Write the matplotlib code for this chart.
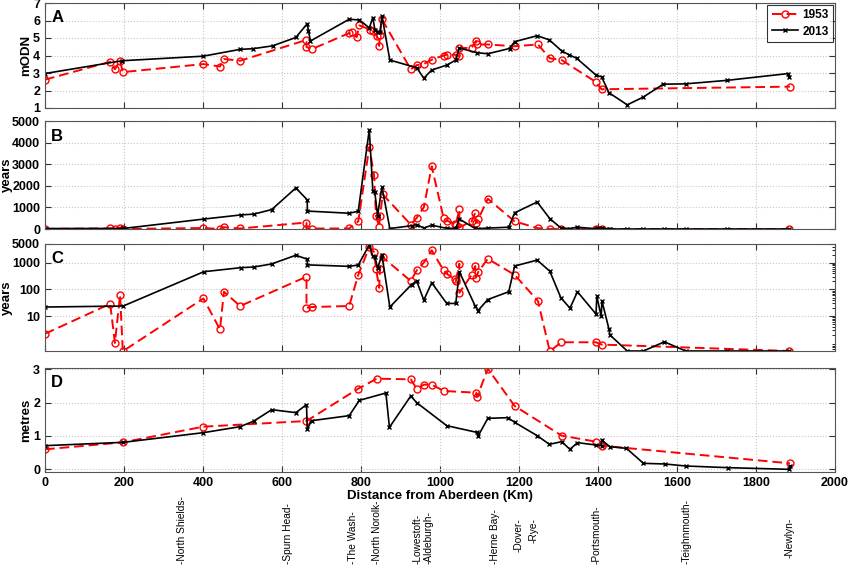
import numpy as np
import matplotlib
matplotlib.use("Agg")
import matplotlib.pyplot as plt
import matplotlib.ticker as mtick
from matplotlib.transforms import blended_transform_factory

plt.rcParams['font.family'] = ['Liberation Sans', 'DejaVu Sans']
plt.rcParams['font.weight'] = 'bold'

# ---- data (distance in km from Aberdeen) ----
# panel A: extreme water level (mODN)
a53_x = [0, 165, 177, 190, 197, 401, 443, 453, 494, 662, 662, 675, 770, 776, 789, 796,
         823, 831, 840, 846, 848, 853, 926, 941, 959, 979, 1009, 1017, 1040, 1049, 1049,
         1080, 1091, 1093, 1121, 1189, 1248, 1278, 1308, 1395, 1409, 1886]
a53_y = [2.62, 3.64, 3.21, 3.70, 3.05, 3.51, 3.37, 3.80, 3.70, 4.89, 4.49, 4.36, 5.28, 5.32,
         5.05, 5.72, 5.48, 5.38, 5.09, 4.55, 5.18, 6.07, 3.21, 3.45, 3.51, 3.76, 4.00, 4.04,
         4.04, 3.96, 4.43, 4.43, 4.83, 4.63, 4.63, 4.53, 4.63, 3.84, 3.74, 2.48, 2.07, 2.22]
a13_x = [0, 195, 400, 494, 527, 576, 635, 664, 667, 672, 770, 796, 821, 830, 835, 842, 848,
         853, 873, 941, 959, 979, 1017, 1040, 1049, 1093, 1121, 1176, 1189, 1246, 1277, 1308,
         1327, 1346, 1396, 1409, 1428, 1474, 1515, 1565, 1622, 1727, 1882, 1884]
a13_y = [2.97, 3.70, 3.96, 4.35, 4.39, 4.55, 5.03, 5.82, 5.40, 4.83, 6.07, 6.03, 5.58, 6.17,
         5.48, 5.34, 5.32, 6.27, 3.74, 3.30, 2.70, 3.17, 3.45, 3.74, 4.43, 4.16, 4.10, 4.40,
         4.79, 5.13, 4.89, 4.26, 4.04, 3.84, 2.86, 2.78, 1.87, 1.18, 1.63, 2.36, 2.38, 2.58,
         2.97, 2.76]

# panels B and C: return period (years)
rp53_x = [0, 165, 177, 190, 197, 401, 443, 453, 494, 662, 662, 675, 770, 793, 821, 833, 838,
          846, 848, 855, 926, 941, 959, 979, 1009, 1017, 1037, 1040, 1049, 1049, 1080, 1089,
          1091, 1097, 1121, 1189, 1248, 1278, 1307, 1395, 1409, 1884]
rp53_y = [2.2, 29, 1.0, 61, 0.49, 46, 3.2, 82, 24, 300, 20.5, 22, 24, 350, 3800, 2500, 600,
          115, 580, 1600, 206, 515, 1000, 2900, 520, 390, 237, 206, 915, 75, 350, 750, 275,
          460, 1400, 350, 37, 0.49, 1.06, 1.06, 0.87, 0.5]
rp13_x = [0, 198, 402, 495, 529, 574, 635, 664, 664, 770, 793, 821, 830, 835, 842, 853, 873,
          928, 941, 959, 979, 1017, 1040, 1049, 1089, 1096, 1121, 1174, 1189, 1246, 1278, 1306,
          1329, 1348, 1395, 1397, 1408, 1410, 1428, 1430, 1474, 1515, 1568, 1622, 1727, 1884]
rp13_y = [22, 24, 460, 650, 690, 900, 1900, 1350, 830, 730, 820, 4600, 1750, 1700, 620, 1950,
          22, 153, 206, 40, 178, 30, 30, 460, 24, 16, 42, 82, 750, 1250, 480, 49, 20, 82, 12,
          56, 10, 37, 3.2, 2, 0.5, 0.5, 1.1, 0.5, 0.5, 0.5]

# panel D: metres
d53_x = [0, 197, 401, 662, 793, 840, 926, 941, 959, 979, 1010, 1091, 1094, 1121, 1189, 1308,
         1395, 1409, 1886]
d53_y = [0.60, 0.81, 1.28, 1.45, 2.42, 2.72, 2.70, 2.42, 2.54, 2.54, 2.35, 2.30, 2.17, 3.02,
         1.90, 1.01, 0.83, 0.71, 0.18]
d13_x = [0, 198, 401, 494, 529, 574, 635, 662, 664, 675, 770, 796, 863, 872, 926, 941, 1017,
         1093, 1097, 1121, 1172, 1189, 1246, 1277, 1308, 1329, 1348, 1395, 1409, 1409, 1430,
         1472, 1515, 1570, 1622, 1730, 1884, 1886]
d13_y = [0.71, 0.81, 1.10, 1.28, 1.45, 1.79, 1.70, 1.94, 1.21, 1.46, 1.61, 2.07, 2.29, 1.26,
         2.20, 2.00, 1.31, 1.11, 1.01, 1.53, 1.55, 1.41, 1.01, 0.75, 0.83, 0.60, 0.80, 0.73,
         0.71, 0.88, 0.68, 0.63, 0.18, 0.16, 0.10, 0.05, 0.00, 0.10]

# coastal locations marked under the x axis
places = ["-North Shields-", "-Spurn Head-", "-The Wash-", "-North Norolk-", "-Lowestoft-",
          "-Aldeburgh-", "-Herne Bay-", "-Dover-", "-Rye-", "-Portsmouth-", "-Teighnmouth-",
          "-Newlyn-"]
place_km = [346, 615, 780, 840, 944, 972, 1139, 1198, 1238, 1397, 1625, 1886]

# ---- figure ----
fig = plt.figure(figsize=(8.51, 5.70), dpi=100)
W, H = 851.0, 570.0
left, right = 45 / W, 835 / W
boxes = [(3, 108), (121, 229), (244, 351), (368, 472)]                     # pixel top/bottom of each panel
axes = [fig.add_axes([left, 1 - b / H, right - left, (b - t) / H]) for t, b in boxes]
ax1, ax2, ax3, ax4 = axes

s53 = dict(color='red', ls='--', lw=1.4, marker='o', ms=5, mfc='none', mew=1.0, dashes=(5, 2.5))
s13 = dict(color='black', ls='-', lw=1.2, marker='x', ms=3, mew=1.0)

ax1.plot(a53_x, a53_y, label='1953', **s53)
ax1.plot(a13_x, a13_y, label='2013', **s13)
ax2.plot(rp53_x, rp53_y, **s53)
ax2.plot(rp13_x, rp13_y, **s13)
ax3.plot(rp53_x, rp53_y, **s53)
ax3.plot(rp13_x, rp13_y, **s13)
ax4.plot(d53_x, d53_y, **s53)
ax4.plot(d13_x, d13_y, **s13)

ax1.set_ylim(1, 7)
ax1.set_yticks(np.arange(1, 8, 1))
ax2.set_ylim(0, 5000)
ax2.set_yticks(np.arange(0, 5001, 1000))
ax3.set_yscale('log')
ax3.set_ylim(0.5, 5000)
ax3.set_yticks([10, 100, 1000, 5000])
ax3.yaxis.set_major_formatter(mtick.FuncFormatter(lambda v, p: '%d' % v))
ax3.yaxis.set_minor_formatter(mtick.NullFormatter())
ax4.set_ylim(-0.08, 3.04)
ax4.set_yticks([0, 1, 2, 3])

label_x = [-0.0165, -0.041, -0.041, -0.0165]
for ax, lab, ylab, lx in zip(axes, 'ABCD', ['mODN', 'years', 'years', 'metres'], label_x):
    ax.set_xlim(0, 2000)
    ax.set_xticks(np.arange(0, 2001, 200))
    ax.grid(True, which='major', ls=':', color='#c8c8c8', lw=0.8)
    ax.tick_params(direction='in', top=True, right=True, labelsize=9, length=4,
                   color='#333333')
    ax.tick_params(which='minor', direction='in', right=True, left=False, length=2)
    for sp in ax.spines.values():
        sp.set_color('#555555')
    ax.set_ylabel(ylab, fontsize=9.5, fontweight='bold')
    ax.yaxis.set_label_coords(lx, 0.5)
    ax.text(0.008, 0.93, lab, transform=ax.transAxes, fontsize=12, fontweight='bold',
            va='top', ha='left')
    if ax is not ax4:
        ax.tick_params(labelbottom=False)

ax4.set_xlabel('Distance from Aberdeen (Km)', fontsize=9.5, fontweight='bold', labelpad=1)

leg = ax1.legend(loc='upper right', fontsize=8.5, frameon=True, fancybox=False,
                 edgecolor='black', handlelength=2.2, borderaxespad=0.2,
                 borderpad=0.35, labelspacing=0.35, handletextpad=0.4)
leg.get_frame().set_linewidth(0.8)

# location names under the axis, rotated
trans = blended_transform_factory(ax4.transData, fig.transFigure)
bottoms = [564, 564, 564, 564, 564, 564, 564, 552, 543, 564, 564, 558]
for name, km, bt in zip(places, place_km, bottoms):
    ax4.text(km, 1 - bt / H, name, transform=trans, rotation=90, ha='center', va='bottom',
             fontsize=7.3, fontweight='normal')

plt.savefig('out.png', dpi=100)
